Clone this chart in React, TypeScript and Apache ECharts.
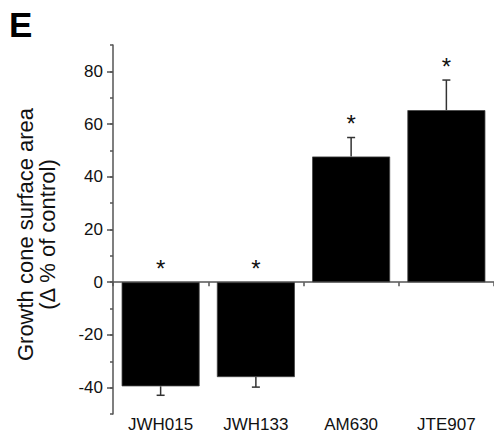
import React, { useEffect, useRef } from "react";
import * as echarts from "echarts";

const categories = ["JWH015", "JWH133", "AM630", "JTE907"];
const means = [-39.5, -36.0, 47.7, 65.3];
const errors = [3.4, 3.8, 7.2, 11.4];
const significant = [true, true, true, true];
const yTickLabels = [-40, -20, 0, 20, 40, 60, 80];

const FONT = "'Liberation Sans', Arial, sans-serif";

export default function App() {
  const ref = useRef<HTMLDivElement>(null);
  useEffect(() => {
    if (!ref.current) return;
    const chart = echarts.init(ref.current, null, { renderer: "svg" });
    const errData = means.map((m, i) => [i, m, errors[i], significant[i] ? 1 : 0]);
    chart.setOption({
      animation: false,
      textStyle: { fontFamily: FONT },
      grid: { left: 113, width: 386, top: 45, bottom: 18 },
      graphic: [
        {
          type: "text",
          left: 9,
          top: 7,
          style: { text: "E", font: `bold 35px ${FONT}`, fill: "#000" },
        },
      ],
      xAxis: [
        {
          type: "category",
          data: categories,
          position: "bottom",
          axisLine: { onZero: true, lineStyle: { color: "#555", width: 1.5 } },
          axisTick: { show: true, alignWithLabel: false, interval: 0, length: 4, lineStyle: { color: "#555", width: 1.5 } },
          axisLabel: { show: false },
          splitLine: { show: false },
        },
        {
          type: "category",
          data: categories,
          position: "bottom",
          axisLine: { show: false, onZero: false },
          axisTick: { show: false },
          axisLabel: { show: true, fontSize: 17, color: "#111", margin: 2, fontFamily: FONT },
          splitLine: { show: false },
        },
      ],
      yAxis: [
        {
          type: "value",
          position: "left",
          min: -50,
          max: 90,
          interval: 10,
          axisLine: { show: true, lineStyle: { color: "#555", width: 1.5 } },
          axisTick: { show: true, length: 3, lineStyle: { color: "#555", width: 1.5 } },
          axisLabel: { show: false },
          splitLine: { show: false },
        },
        {
          type: "value",
          position: "left",
          min: -50,
          max: 90,
          interval: 10,
          name: "Growth cone surface area\n(\u0394 % of control)",
          nameLocation: "middle",
          nameRotate: 90,
          nameGap: 55,
          nameTextStyle: { fontSize: 22, color: "#111", lineHeight: 22, fontFamily: FONT, padding: [0, 10, 0, 0] },
          axisLine: { show: false },
          axisTick: { show: true, length: 6, customValues: yTickLabels, lineStyle: { color: "#555", width: 1.5 } },
          axisLabel: { show: true, customValues: yTickLabels, fontSize: 17, color: "#111", margin: 10, fontFamily: FONT },
          splitLine: { show: false },
        },
      ],
      series: [
        {
          type: "bar",
          xAxisIndex: 0,
          yAxisIndex: 0,
          data: means,
          barWidth: 78,
          itemStyle: { color: "#000", borderColor: "#444", borderWidth: 0.8 },
        },
        {
          type: "custom",
          xAxisIndex: 0,
          yAxisIndex: 0,
          data: errData,
          encode: { x: 0, y: 1 },
          renderItem: (params: any, api: any) => {
            const i = api.value(0);
            const m = api.value(1);
            const e = api.value(2);
            const sig = api.value(3);
            const tip = m >= 0 ? m + e : m - e;
            const p0 = api.coord([i, m]);
            const p1 = api.coord([i, tip]);
            const anchor = api.coord([i, m >= 0 ? m + e : 0]);
            const children: any[] = [
              {
                type: "line",
                shape: { x1: p0[0], y1: p0[1], x2: p1[0], y2: p1[1] },
                style: { stroke: "#333", lineWidth: 1.5 },
              },
              {
                type: "line",
                shape: { x1: p1[0] - 4, y1: p1[1], x2: p1[0] + 4, y2: p1[1] },
                style: { stroke: "#333", lineWidth: 1.5 },
              },
            ];
            if (sig) {
              children.push({
                type: "text",
                style: {
                  text: "*",
                  x: anchor[0],
                  y: anchor[1] - 14,
                  align: "center",
                  verticalAlign: "middle",
                  font: `24px ${FONT}`,
                  fill: "#111",
                },
              });
            }
            return { type: "group", children };
          },
        },
      ],
    });
    return () => chart.dispose();
  }, []);
  return (
    <div
      ref={ref}
      style={{ position: "fixed", left: 0, top: 0, width: 494, height: 433, background: "#fff" }}
    />
  );
}
